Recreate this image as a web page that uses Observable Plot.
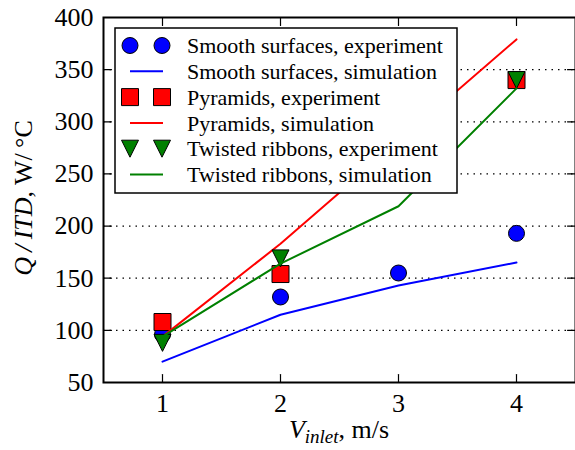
<!DOCTYPE html>
<html><head><meta charset="utf-8">
<script src="https://cdn.jsdelivr.net/npm/d3@7"></script>
<script src="https://cdn.jsdelivr.net/npm/@observablehq/plot@0.6"></script>
<style>
html,body{margin:0;padding:0;background:#fff;}
#chart{width:575px;height:450px;}
</style></head><body><div id="chart"></div>
<script>
// ---- data ----
const speeds = [1, 2, 3, 4];
const smoothExp = [96, 132, 155, 193];
const smoothSim = [70, 115, 143, 165];
const pyramidExpSpeeds = [1, 2, 4];
const pyramidExp = [108, 154, 340];
const pyramidSim = [94, 183, 281, 379];
const ribbonExpSpeeds = [1, 2, 4];
const ribbonExp = [88, 169, 340];
const ribbonSim = [94, 164, 219, 332];
const xTicks = [1, 2, 3, 4];
const yTicks = [50, 100, 150, 200, 250, 300, 350, 400];
const gridTicks = [100, 150, 200, 250, 300, 350];
const legendLabels = [
  "Smooth surfaces, experiment",
  "Smooth surfaces, simulation",
  "Pyramids, experiment",
  "Pyramids, simulation",
  "Twisted ribbons, experiment",
  "Twisted ribbons, simulation"
];
const legendKinds = ["circle", "line", "square", "line", "tridown", "line"];
const legendColors = ["#0000ff", "#0000ff", "#ff0000", "#ff0000", "#008000", "#008000"];

const toRows = (xs, ys) => ys.map((y, i) => ({x: xs[i], y}));

// matplotlib-like symbols: half-size = sqrt(size/pi) = r
const squareSym = {draw(ctx, size) { const s = Math.sqrt(size / Math.PI); ctx.rect(-s, -s, 2 * s, 2 * s); }};
const triDownSym = {draw(ctx, size) { const s = Math.sqrt(size / Math.PI); ctx.moveTo(0, s); ctx.lineTo(-s, -s); ctx.lineTo(s, -s); ctx.closePath(); }};
const tickShape = {draw(ctx, l) { ctx.moveTo(0, 0); ctx.lineTo(0, -l); }};

const FONT = "'Liberation Serif', 'Times New Roman', Times, serif";
const tickLen = 8;

const plot = Plot.plot({
  width: 575, height: 450,
  marginTop: 17, marginRight: 0, marginBottom: 68, marginLeft: 103,
  style: {fontFamily: FONT, fontSize: "26px", color: "black", background: "white", overflow: "visible"},
  x: {domain: [0.5, 4.5], ticks: xTicks, tickFormat: d3.format("d")},
  y: {domain: [50, 400], ticks: yTicks},
  marks: [
    Plot.ruleY(gridTicks, {stroke: "black", strokeWidth: 1.2, strokeDasharray: "1.5,5"}),
    Plot.axisX(xTicks, {tickSize: 0, tickPadding: 11, label: null, fontSize: 26, tickFormat: d3.format("d")}),
    Plot.axisY(yTicks, {tickSize: 0, tickPadding: 10, label: null, fontSize: 26}),
    Plot.vector(yTicks, {y: d => d, frameAnchor: "left", rotate: 90, length: tickLen, anchor: "start", shape: tickShape, stroke: "black", strokeWidth: 1.2}),
    Plot.vector(yTicks, {y: d => d, frameAnchor: "right", rotate: 270, length: tickLen, anchor: "start", shape: tickShape, stroke: "black", strokeWidth: 1.2}),
    Plot.vector(xTicks, {x: d => d, frameAnchor: "bottom", rotate: 0, length: tickLen, anchor: "start", shape: tickShape, stroke: "black", strokeWidth: 1.2}),
    Plot.vector(xTicks, {x: d => d, frameAnchor: "top", rotate: 180, length: tickLen, anchor: "start", shape: tickShape, stroke: "black", strokeWidth: 1.2}),
    Plot.dot(toRows(speeds, smoothExp), {x: "x", y: "y", r: 8, symbol: "circle", fill: "#0000ff", stroke: "black", strokeWidth: 1}),
    Plot.line(toRows(speeds, smoothSim), {x: "x", y: "y", stroke: "#0000ff", strokeWidth: 2}),
    Plot.dot(toRows(pyramidExpSpeeds, pyramidExp), {x: "x", y: "y", r: 8.5, symbol: squareSym, fill: "#ff0000", stroke: "black", strokeWidth: 1}),
    Plot.line(toRows(speeds, pyramidSim), {x: "x", y: "y", stroke: "#ff0000", strokeWidth: 2}),
    Plot.dot(toRows(ribbonExpSpeeds, ribbonExp), {x: "x", y: "y", r: 8.5, symbol: triDownSym, fill: "#008000", stroke: "black", strokeWidth: 1}),
    Plot.line(toRows(speeds, ribbonSim), {x: "x", y: "y", stroke: "#008000", strokeWidth: 2}),
    Plot.frame({stroke: "black", strokeWidth: 2})
  ]
});
document.getElementById("chart").appendChild(plot);

const svg = d3.select(plot);

// Legend
const lg = svg.append("g").attr("font-family", FONT).attr("font-size", 22).attr("text-anchor", "start");
const box = {x: 115, y: 28, w: 342, h: 165};
lg.append("rect").attr("x", box.x).attr("y", box.y).attr("width", box.w).attr("height", box.h)
  .attr("fill", "white").attr("stroke", "black").attr("stroke-width", 1.5);
legendLabels.forEach((label, i) => {
  const cy = 45.5 + i * 25.8;
  const g = lg.append("g");
  const kind = legendKinds[i], col = legendColors[i];
  if (kind === "line") {
    g.append("line").attr("x1", 130).attr("x2", 163).attr("y1", cy).attr("y2", cy)
      .attr("stroke", col).attr("stroke-width", 2);
  } else {
    [130, 162].forEach(cx => {
      const p = d3.path();
      const s = kind === "circle" ? 8 : 8.5;
      if (kind === "circle") p.arc(cx, cy, s, 0, 2 * Math.PI);
      else if (kind === "square") p.rect(cx - s, cy - s, 2 * s, 2 * s);
      else { p.moveTo(cx, cy + s); p.lineTo(cx - s, cy - s); p.lineTo(cx + s, cy - s); p.closePath(); }
      g.append("path").attr("d", p.toString()).attr("fill", col).attr("stroke", "black").attr("stroke-width", 1);
    });
  }
  g.append("text").attr("x", 187).attr("y", cy).attr("dy", "0.35em").attr("text-anchor", "start").attr("fill", "black").text(label);
});

// Axis labels
const xl = svg.append("text").attr("x", 339).attr("y", 438).attr("text-anchor", "middle")
  .attr("font-family", FONT).attr("font-size", 26).attr("fill", "black");
xl.append("tspan").attr("font-style", "italic").text("V");
xl.append("tspan").attr("font-style", "italic").attr("font-size", 19).attr("dy", 5).text("inlet");
xl.append("tspan").attr("dy", -5).text(", m/s");

const yl = svg.append("text").attr("transform", "translate(32,198) rotate(-90)").attr("text-anchor", "middle")
  .attr("font-family", FONT).attr("font-size", 26).attr("fill", "black");
yl.append("tspan").attr("font-style", "italic").text("Q\u2009/\u2009ITD");
yl.append("tspan").text(", W/\u2009°C");
</script>
</body></html>
